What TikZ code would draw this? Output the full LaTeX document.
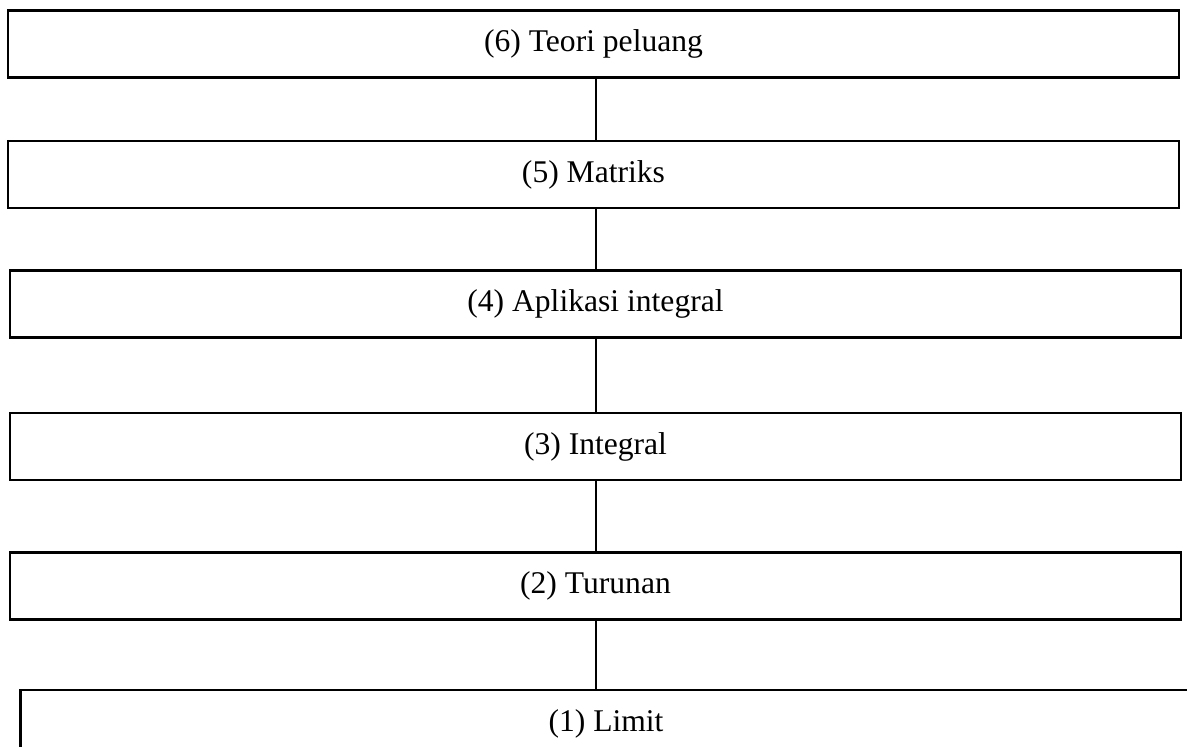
\documentclass[tikz,border=0pt]{standalone}
\usepackage{fontspec}
\setmainfont{Liberation Serif}
\begin{document}
\begin{tikzpicture}[x=0.5pt,y=-0.5pt,
    stage/.style={draw,line width=1.3pt,minimum width=585.5pt,
        minimum height=33.5pt,inner sep=0pt,
        font=\fontsize{15.8}{19}\selectfont},
    link/.style={line width=0.75pt}]
    \clip (0,0) rectangle (1187,747);

    \node[stage] (teori) at (593.5,44) {(6) Teori peluang};
    \node[stage] (matriks) at (593.5,174.5) {(5) Matriks};
    \node[stage] (aplikasi) at (595.5,304) {(4) Aplikasi integral};
    \node[stage] (integral) at (595.5,446.5) {(3) Integral};
    \node[stage] (turunan) at (595.5,586) {(2) Turunan};
    \node[stage] (limit) at (606,723.5) {(1) Limit};

    \coordinate (spine) at (596,0);
    \draw[link] (teori.south -| spine) -- (matriks.north -| spine);
    \draw[link] (matriks.south -| spine) -- (aplikasi.north -| spine);
    \draw[link] (aplikasi.south -| spine) -- (integral.north -| spine);
    \draw[link] (integral.south -| spine) -- (turunan.north -| spine);
    \draw[link] (turunan.south -| spine) -- (limit.north -| spine);
\end{tikzpicture}
\end{document}
